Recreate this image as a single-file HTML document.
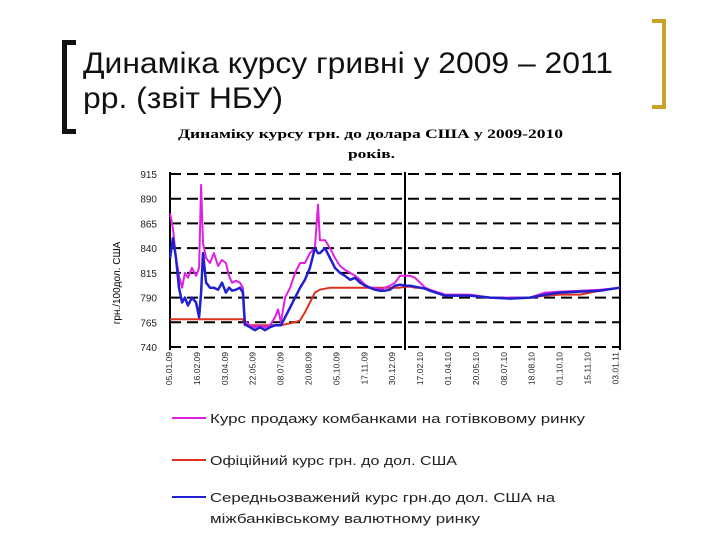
<!DOCTYPE html>
<html><head><meta charset="utf-8"><style>
body{margin:0;background:#fff;}
#root{position:relative;width:720px;height:540px;overflow:hidden;font-family:"Liberation Sans",sans-serif;}
</style></head><body><div id="root">
<div style="position:absolute;left:62px;top:40px;width:9px;height:84px;border:5px solid #111;border-right:none;"></div>
<div style="position:absolute;left:652px;top:19px;width:10px;height:82px;border:4px solid #c9a227;border-left:none;"></div>
<svg id="chart" width="720" height="540" style="position:absolute;left:0;top:0" font-family="Liberation Sans, sans-serif">
<text x="83" y="73" font-size="30" fill="#111" textLength="530" lengthAdjust="spacingAndGlyphs">Динаміка курсу гривні у 2009 – 2011</text>
<text x="83" y="108" font-size="30" fill="#111" textLength="200" lengthAdjust="spacingAndGlyphs">рр. (звіт НБУ)</text>
<text x="178" y="138" font-family="Liberation Serif, serif" font-weight="bold" font-size="13" textLength="385" lengthAdjust="spacingAndGlyphs">Динаміку курсу грн. до долара США у 2009-2010</text>
<text x="348" y="158" font-family="Liberation Serif, serif" font-weight="bold" font-size="13" textLength="47" lengthAdjust="spacingAndGlyphs">років.</text>
<text transform="translate(120,283) rotate(-90)" text-anchor="middle" font-size="10">грн./100дол. США</text>
<g id="grid"></g><g id="series"></g><g id="ticks"></g>
<g font-size="12.5" fill="#222">
<line x1="172" y1="418" x2="206" y2="418" stroke="#e020e0" stroke-width="2"/>
<text x="210" y="423" textLength="375" lengthAdjust="spacingAndGlyphs">Курс продажу комбанками на готівковому ринку</text>
<line x1="172" y1="460" x2="206" y2="460" stroke="#e03020" stroke-width="2"/>
<text x="210" y="465" textLength="247" lengthAdjust="spacingAndGlyphs">Офіційний курс грн. до дол. США</text>
<line x1="172" y1="497" x2="206" y2="497" stroke="#2020d0" stroke-width="2"/>
<text x="210" y="502" textLength="345" lengthAdjust="spacingAndGlyphs">Середньозважений курс грн.до дол. США на</text>
<text x="210" y="523" textLength="270" lengthAdjust="spacingAndGlyphs">міжбанківському валютному ринку</text>
</g>
</svg>
</div>
<script>
const tickLabels=["05.01.09","16.02.09","03.04.09","22.05.09","08.07.09","20.08.09","05.10.09","17.11.09","30.12.09","17.02.10","01.04.10","20.05.10","08.07.10","18.08.10","01.10.10","15.11.10","03.01.11"];
const yTicks=[915,890,865,840,815,790,765,740];
const tPos=[0.04,0.14,0.25,0.36,0.47,0.57,0.68,0.82,0.97,1.08,1.15,1.22,1.33,1.47,1.61,1.76,1.90,2.04,2.15,2.26,2.40,2.54,2.65,2.72,2.90,3.08,3.26,3.44,3.62,3.80,3.91,4.01,4.16,4.34,4.52,4.70,4.87,5.05,5.23,5.34,5.41,5.59,5.77,5.95,6.13,6.31,6.49,6.67,6.85,7.03,7.20,7.38,7.56,7.74,7.92,8.10,8.28,8.46,8.64,8.82,9.00,9.18,9.35,9.89,10.79,11.51,12.22,12.94,13.48,14.01,14.73,15.45,16.16];
const cashRate=[875,860,830,812,800,815,810,820,812,820,904,845,830,825,835,822,828,825,812,805,807,805,800,766,762,760,762,760,762,770,778,765,790,800,815,825,825,835,840,884,848,848,840,830,822,818,815,812,808,803,800,800,798,800,802,805,812,812,812,810,805,800,798,793,793,790,790,790,795,796,797,798,800];
const officialRate=[768,768,768,768,768,768,768,768,768,768,768,768,768,768,768,768,768,768,768,768,768,768,768,762,762,762,762,762,762,762,762,762,763,764,765,767,775,785,795,797,798,799,800,800,800,800,800,800,800,800,800,800,800,800,800,800,800,801,801,800,800,799,797,792,792,790,789,790,792,793,793,797,800];
const interbankRate=[830,850,830,800,785,790,782,790,785,770,795,835,805,800,800,798,805,795,800,797,798,800,795,763,760,757,760,757,760,762,762,762,770,780,790,800,808,820,840,835,835,840,830,820,815,812,808,810,805,802,800,798,797,797,798,802,803,802,802,801,800,799,797,792,792,790,789,790,793,795,796,797,800];
const NS="http://www.w3.org/2000/svg";
const X=t=>169+t*27.9;
const Y=v=>174+(915-v)*(173/175);
function mk(tag,attrs,parent){const e=document.createElementNS(NS,tag);for(const k in attrs)e.setAttribute(k,attrs[k]);parent.appendChild(e);return e;}
const grid=document.getElementById('grid');
yTicks.forEach(v=>{
 const l=mk('line',{x1:170,x2:620,y1:Y(v),y2:Y(v),stroke:'#000','stroke-width':2,'stroke-dasharray':'11,6'},grid);
 
 
 const t=mk('text',{x:157,y:Y(v)+4,'text-anchor':'end','font-size':10,fill:'#222'},grid);
 
 
 t.textContent=v;
});
[[170,'y-axis-line'],[405,'year-divider'],[620,'right-axis-line']].forEach(([x,n])=>{
 const l=mk('line',{x1:x,x2:x,y1:172,y2:350,stroke:'#000','stroke-width':2},grid);
 
 
});
const ticks=document.getElementById('ticks');
tickLabels.forEach((s,i)=>{
 const t=mk('text',{transform:`translate(${X(i)+3},${352}) rotate(-90)`,'text-anchor':'end','font-size':8.5,fill:'#222'},ticks);
 
 
 t.textContent=s;
});
const ser=document.getElementById('series');
[[officialRate,'#e03020','official-rate-line',2],[cashRate,'#e020e0','cash-rate-line',2],[interbankRate,'#2020d0','interbank-rate-line',2.5]].forEach(([d,c,n,w])=>{
 const p=mk('polyline',{points:d.map((v,i)=>X(tPos[i]).toFixed(1)+','+Y(v).toFixed(1)).join(' '),fill:'none',stroke:c,'stroke-width':w,'stroke-linejoin':'round'},ser);
 
 
});
</script>
</body></html>
